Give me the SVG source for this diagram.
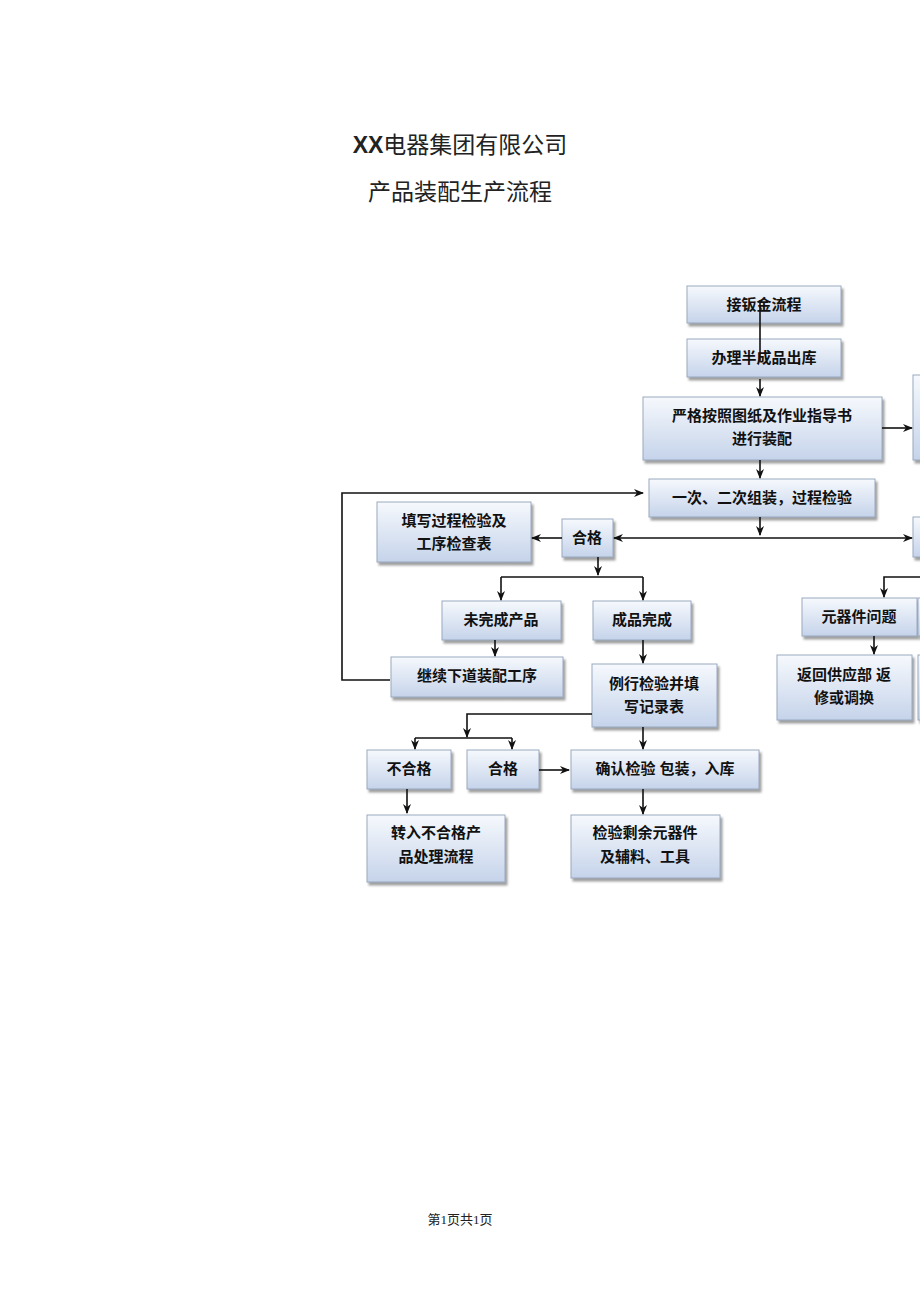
<svg xmlns="http://www.w3.org/2000/svg" width="920" height="1301" viewBox="0 0 920 1301">
<style>
.b{fill:url(#g);stroke:#9aa9c0;stroke-width:1;filter:url(#s)}
.t{font-family:"Liberation Sans","Noto Sans CJK SC",sans-serif;font-weight:bold;font-size:15px;fill:#111;text-anchor:middle}
.c{stroke:#111;stroke-width:1.6;fill:none}
.a{marker-end:url(#m)}
.h{font-family:"Liberation Serif","Noto Sans CJK SC",serif;font-size:23px;fill:#222;text-anchor:middle}
</style>
<defs>
<linearGradient id="g" x1="0" y1="0" x2="0" y2="1"><stop offset="0" stop-color="#f6f9fd"/><stop offset="1" stop-color="#c5d3ea"/></linearGradient>
<filter id="s" x="-10%" y="-10%" width="130%" height="140%"><feDropShadow dx="2" dy="3" stdDeviation="1.2" flood-color="#777" flood-opacity="0.7"/></filter>
<marker id="m" markerWidth="10" markerHeight="10" refX="9" refY="5" orient="auto" markerUnits="userSpaceOnUse"><path d="M0,1 L10,5 L0,9 L3,5 Z" fill="#111"/></marker>
</defs>
<text class="h" x="460" y="153"><tspan font-family="Liberation Sans,sans-serif" font-weight="bold">XX</tspan>电器集团有限公司</text>
<text class="h" x="460" y="200">产品装配生产流程</text>
<text x="460" y="1224" font-family="Liberation Serif,Noto Sans CJK SC,serif" font-size="13" text-anchor="middle" fill="#222">第1页共1页</text>

<g id="n1"><rect class="b" x="687" y="286" width="154" height="37"/><text class="t" x="764" y="310">接钣金流程</text></g>
<g id="n2"><rect class="b" x="687" y="339" width="154" height="38"/><text class="t" x="764" y="363">办理半成品出库</text></g>
<g id="n3"><rect class="b" x="643" y="397" width="239" height="63"/><text class="t" x="762" y="421">严格按照图纸及作业指导书</text><text class="t" x="762" y="444">进行装配</text></g>
<g id="n4"><rect class="b" x="649" y="479" width="226" height="38"/><text class="t" x="762" y="503">一次、二次组装，过程检验</text></g>
<g id="n5"><rect class="b" x="562" y="519" width="51" height="38"/><text class="t" x="587" y="543">合格</text></g>
<g id="n6"><rect class="b" x="377" y="502" width="154" height="60"/><text class="t" x="454" y="526">填写过程检验及</text><text class="t" x="454" y="549">工序检查表</text></g>
<g id="n7"><rect class="b" x="442" y="601" width="119" height="39"/><text class="t" x="501" y="625">未完成产品</text></g>
<g id="n8"><rect class="b" x="593" y="601" width="98" height="39"/><text class="t" x="642" y="625">成品完成</text></g>
<g id="n9"><rect class="b" x="391" y="657" width="172" height="40"/><text class="t" x="477" y="681">继续下道装配工序</text></g>
<g id="n10"><rect class="b" x="592" y="664" width="125" height="63"/><text class="t" x="654" y="689">例行检验并填</text><text class="t" x="654" y="712">写记录表</text></g>
<g id="n11"><rect class="b" x="367" y="750" width="84" height="39"/><text class="t" x="409" y="774">不合格</text></g>
<g id="n12"><rect class="b" x="467" y="750" width="72" height="39"/><text class="t" x="503" y="774">合格</text></g>
<g id="n13"><rect class="b" x="571" y="750" width="188" height="39"/><text class="t" x="665" y="774">确认检验  包装，入库</text></g>
<g id="n14"><rect class="b" x="367" y="815" width="138" height="67"/><text class="t" x="436" y="838">转入不合格产</text><text class="t" x="436" y="862">品处理流程</text></g>
<g id="n15"><rect class="b" x="571" y="815" width="149" height="63"/><text class="t" x="645" y="838">检验剩余元器件</text><text class="t" x="645" y="862">及辅料、工具</text></g>
<g id="n16"><rect class="b" x="802" y="598" width="115" height="38"/><text class="t" x="859" y="622">元器件问题</text></g>
<g id="n17"><rect class="b" x="777" y="655" width="135" height="65"/><text class="t" x="844" y="680">返回供应部 返</text><text class="t" x="844" y="703">修或调换</text></g>
<g id="n18"><rect class="b" x="913" y="375" width="20" height="85"/></g>
<g id="n19"><rect class="b" x="913" y="517" width="20" height="40"/></g>
<g id="n20"><rect class="b" x="918" y="598" width="20" height="38"/></g>
<g id="n21"><rect class="b" x="918" y="655" width="20" height="65"/></g>

<g id="connectors">
<path class="c" d="M760,300 V362"/>
<path class="c a" d="M760,379 V396"/>
<path class="c a" d="M882,428 H912"/>
<path class="c a" d="M760,460 V478"/>
<path class="c a" d="M760,517 V535"/>
<path class="c a" d="M760,538 H912"/>
<path class="c a" d="M760,538 H614"/>
<path class="c a" d="M562,538 H532"/>
<path class="c a" d="M390,680 H342 V493 H643"/>
<path class="c a" d="M598,557 V575"/>
<path class="c" d="M501,577 H643"/>
<path class="c a" d="M501,577 V600"/>
<path class="c a" d="M643,577 V600"/>
<path class="c a" d="M495,640 V656"/>
<path class="c a" d="M643,640 V663"/>
<path class="c a" d="M592,714 H467 V737"/>
<path class="c" d="M415,738 H512"/>
<path class="c a" d="M415,738 V749"/>
<path class="c a" d="M512,738 V749"/>
<path class="c a" d="M539,770 H569"/>
<path class="c a" d="M643,727 V749"/>
<path class="c a" d="M407,789 V813"/>
<path class="c a" d="M643,789 V814"/>
<path class="c a" d="M920,577 H884 V597"/>
<path class="c a" d="M874,636 V654"/>
</g>
</svg>
